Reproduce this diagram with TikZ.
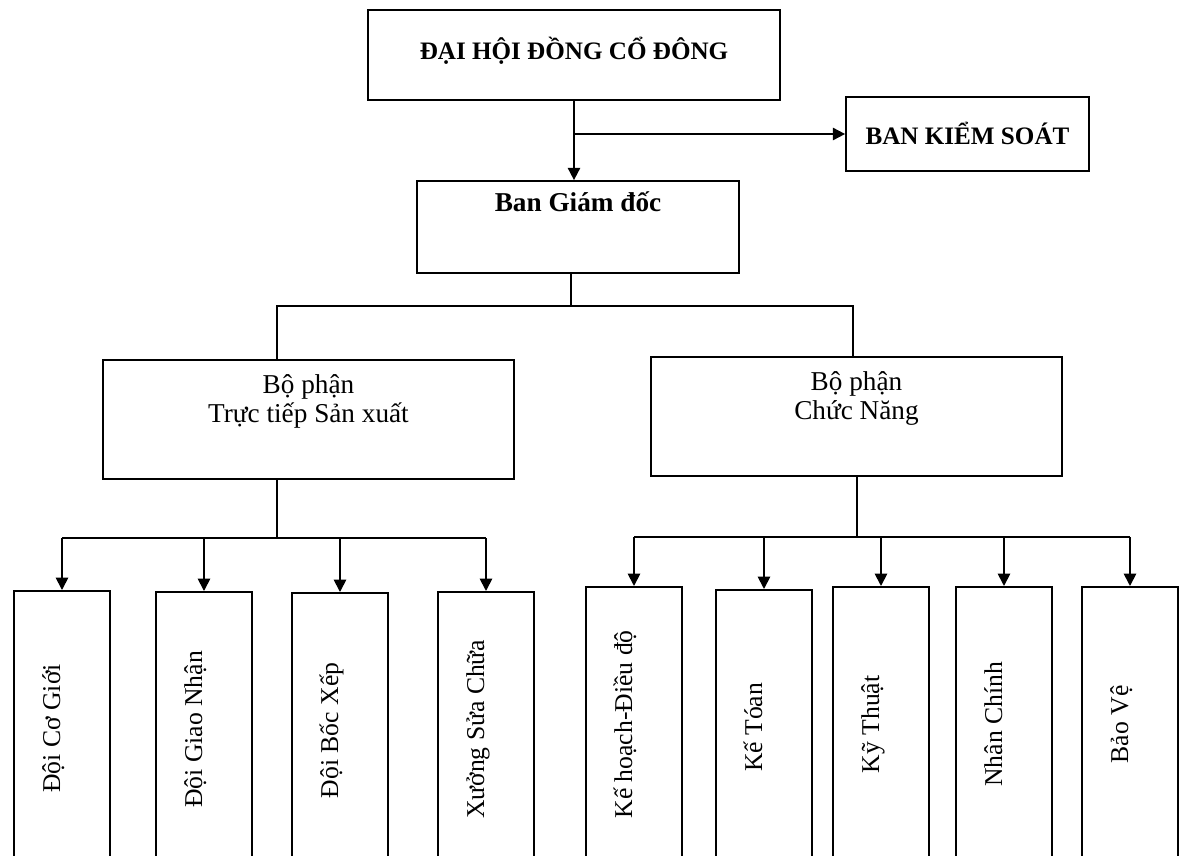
\documentclass[tikz,border=0pt]{standalone}
\usepackage{fontspec}
\setmainfont{Liberation Serif}
\usetikzlibrary{arrows.meta}
\newcommand{\uprot}[1]{\rotatebox{90}{\smash{#1}}\hspace*{2.2pt}}

\begin{document}
\begin{tikzpicture}[x=0.02cm, y=-0.02cm, line width=1pt,
            font=\fontsize{15.5}{17}\selectfont,
            bold/.style={font=\fontsize{15.5}{17}\selectfont\bfseries},
            head/.style={font=\fontsize{14.3}{17}\selectfont\bfseries},
            box/.style={draw, rectangle, inner sep=0pt},
            leaf/.style={box, anchor=north, minimum width=1.92cm, minimum height=5.5cm,
                font=\fontsize{14.6}{17}\selectfont},
            arr/.style={-{Triangle[length=7pt, width=7pt]}}]
            \useasboundingbox (0,0) rectangle (1181,856);
            \clip (0,0) rectangle (1181,856);

            \node[box, minimum width=8.24cm, minimum height=1.8cm,
                label={[head, anchor=base, yshift=-28.4pt]north:ĐẠI HỘI ĐỒNG CỔ ĐÔNG}] (dhdcd) at (574,55) {};
            \node[box, minimum width=4.86cm, minimum height=1.48cm,
                label={[head, anchor=base, yshift=-27.8pt]north:BAN KIỂM SOÁT}] (bks) at (967.5,134) {};
            \node[box, minimum width=6.44cm, minimum height=1.84cm,
                label={[bold, anchor=base, yshift=-17.6pt]north:Ban Giám đốc}] (bgd) at (578,227) {};

            \node[box, minimum width=8.22cm, minimum height=2.38cm,
                label={[anchor=north, inner sep=0pt, yshift=-8pt, align=center]north:{Bộ phận\\Trực tiếp Sản xuất}}] (bpsx) at (308.5,419.5) {};
            \node[box, minimum width=8.22cm, minimum height=2.38cm,
                label={[anchor=north, inner sep=0pt, yshift=-8pt, align=center]north:{Bộ phận\\Chức Năng}}] (bpcn) at (856.5,416.5) {};

            \node[leaf] (dcg) at (62,590) {\uprot{Đội Cơ Giới}};
            \node[leaf] (dgn) at (204,591) {\uprot{Đội Giao Nhận}};
            \node[leaf] (dbx) at (340,592) {\uprot{Đội Bốc Xếp}};
            \node[leaf] (xsc) at (486,591) {\uprot{Xưởng Sửa Chữa}};
            \node[leaf] (khdd) at (634,586) {\uprot{Kế hoạch-Điều độ}};
            \node[leaf] (kto) at (764,589) {\uprot{Kế Tóan}};
            \node[leaf] (kth) at (881,586) {\uprot{Kỹ Thuật}};
            \node[leaf] (nch) at (1004,586) {\uprot{Nhân Chính}};
            \node[leaf] (bve) at (1130,586) {\uprot{Bảo Vệ}};

            \coordinate (gdj) at (571,306);
            \coordinate (sxt) at (277,306);
            \coordinate (cnt) at (853,306);
            \coordinate (sxj) at (277,538);
            \coordinate (cnj) at (857,537);

            \draw[arr] (dhdcd.south) -- (dhdcd.south |- bgd.north);
            \draw[arr] (dhdcd.south |- bks.west) -- (bks.west);

            \draw (bgd.south -| gdj) -- (gdj);
            \draw (bpsx.north -| sxt) -- (sxt) -- (cnt) -- (bpcn.north -| cnt);

            \draw (bpsx.south -| sxj) -- (sxj);
            \draw (dcg.north |- sxj) -- (xsc.north |- sxj);
            \foreach \n in {dcg, dgn, dbx, xsc}
                \draw[arr] (\n.north |- sxj) -- (\n.north);

            \draw (bpcn.south -| cnj) -- (cnj);
            \draw (khdd.north |- cnj) -- (bve.north |- cnj);
            \foreach \n in {khdd, kto, kth, nch, bve}
                \draw[arr] (\n.north |- cnj) -- (\n.north);
        \end{tikzpicture}
\end{document}
